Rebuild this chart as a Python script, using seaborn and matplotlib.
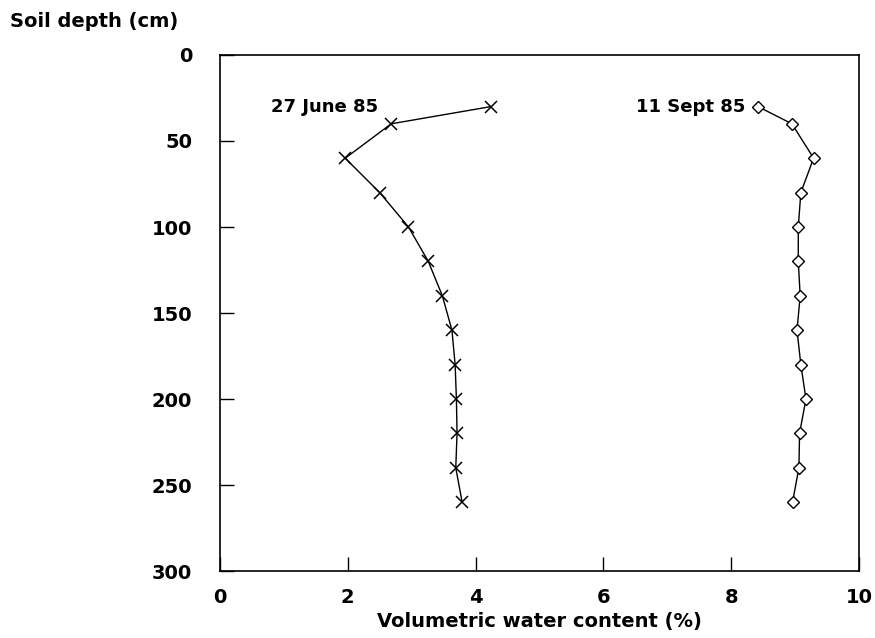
import matplotlib
matplotlib.use("Agg")
import matplotlib.pyplot as plt
import seaborn as sns
import pandas as pd

# Data
depth = [30, 40, 60, 80, 100, 120, 140, 160, 180, 200, 220, 240, 260]
june_85 = [4.24, 2.68, 1.96, 2.50, 2.95, 3.26, 3.48, 3.63, 3.68, 3.70, 3.71, 3.69, 3.79]
sept_85 = [8.42, 8.95, 9.29, 9.09, 9.05, 9.05, 9.08, 9.03, 9.09, 9.17, 9.07, 9.06, 8.96]
series_labels = ["27 June 85", "11 Sept 85"]
x_ticks = [0, 2, 4, 6, 8, 10]
y_ticks = [0, 50, 100, 150, 200, 250, 300]

sns.set_theme(style="white")
plt.rcParams['font.family'] = ['DejaVu Sans']
plt.rcParams['text.color'] = 'black'
plt.rcParams['axes.labelcolor'] = 'black'
plt.rcParams['xtick.color'] = 'black'
plt.rcParams['ytick.color'] = 'black'

fig = plt.figure(figsize=(8.75, 6.38), dpi=100)
ax = fig.add_axes([0.2514, 0.105, 0.7303, 0.8088])

df_june = pd.DataFrame({"depth": depth, "wc": june_85})
df_sept = pd.DataFrame({"depth": depth, "wc": sept_85})

sns.lineplot(data=df_june, x="wc", y="depth", sort=False, estimator=None,
             color="black", lw=1.0, marker="x", markersize=8, mew=1.1,
             markeredgecolor="black",
             ax=ax, legend=False)
sns.lineplot(data=df_sept, x="wc", y="depth", sort=False, estimator=None,
             color="black", lw=1.0, marker="D", markersize=6, mew=1.0,
             markerfacecolor="white", markeredgecolor="black",
             ax=ax, legend=False)

ax.set_xlim(0, 10)
ax.set_ylim(300, 0)
ax.set_xticks(x_ticks)
ax.set_yticks(y_ticks)
ax.set_xticklabels([str(v) for v in x_ticks], fontsize=14, fontweight="bold")
ax.set_yticklabels([str(v) for v in y_ticks], fontsize=14, fontweight="bold")
ax.tick_params(axis="both", direction="in", length=10, width=1.0, color="black",
               labelcolor="black")
ax.tick_params(axis="y", pad=20, left=True, right=False)
ax.tick_params(axis="x", pad=12, bottom=True, top=False)

for s in ax.spines.values():
    s.set_color("black")
    s.set_linewidth(1.2)

ax.set_xlabel("Volumetric water content (%)", fontsize=14, fontweight="bold",
              labelpad=4, color="black")
ax.set_ylabel("")

fig.text(0.012, 0.967, "Soil depth (cm)", fontsize=14, fontweight="bold",
         ha="left", va="center", color="black")

ax.text(2.48, 30, series_labels[0], fontsize=13, fontweight="bold",
        ha="right", va="center", color="black")
ax.text(8.22, 30, series_labels[1], fontsize=13, fontweight="bold",
        ha="right", va="center", color="black")

fig.savefig("out.png", dpi=100)
